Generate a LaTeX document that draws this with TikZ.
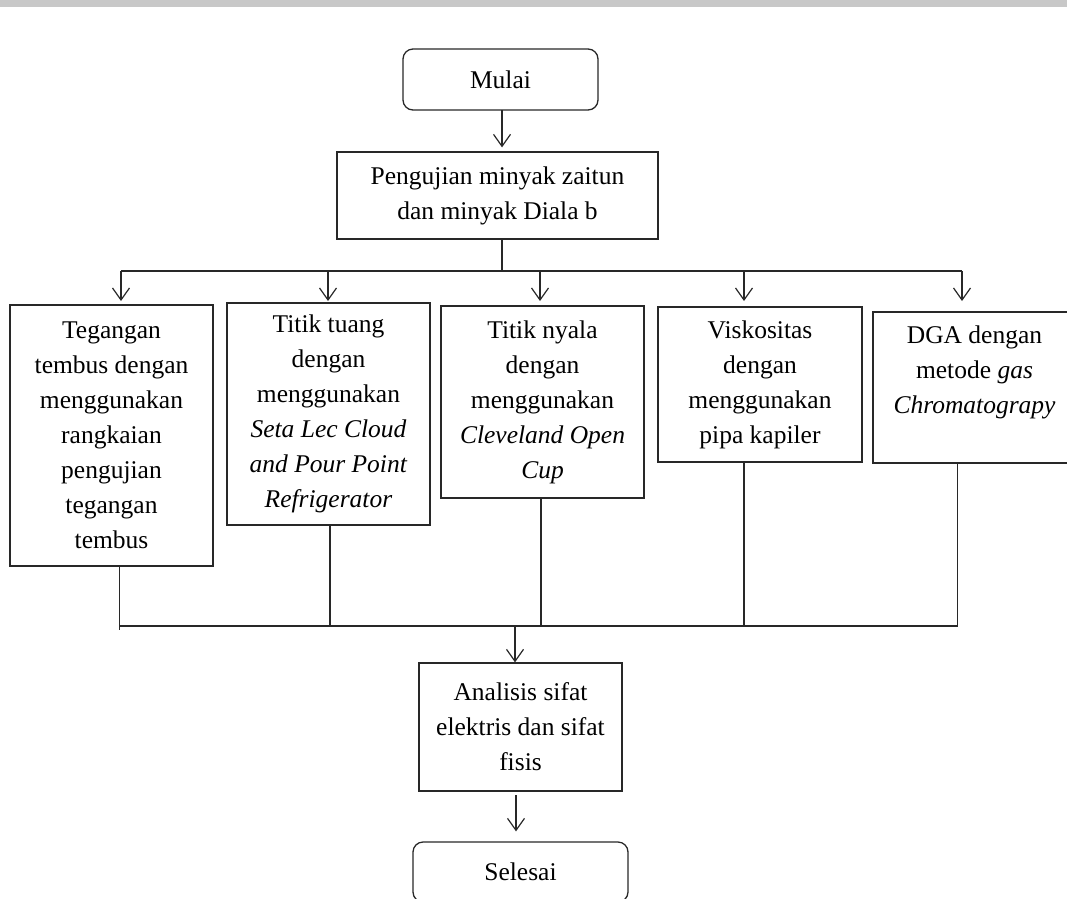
\documentclass[tikz,border=0pt]{standalone}
\usepackage{fontspec}
\setmainfont{Liberation Serif}
\usetikzlibrary{arrows.meta}
\definecolor{ln}{RGB}{40,40,40}
\definecolor{band}{RGB}{200,200,200}
\tikzset{
  txt/.style={font=\fontsize{25.5}{35}\selectfont, text=black},
  procbox/.style={txt, draw=ln, line width=1.3pt, rectangle, align=center, inner sep=0pt},
  termbox/.style={txt, draw=ln, line width=1.3pt, rectangle, rounded corners=10pt, inner sep=0pt},
  conn/.style={draw=ln, line width=1.2pt},
  arr/.style={conn, -{Straight Barb[length=12pt,width=17pt,line width=1.2pt]}},
}
\begin{document}
\begin{tikzpicture}[x=1pt,y=-1pt]
\useasboundingbox (0,0) rectangle (1067,898);
\clip (0,0) rectangle (1067,898);
\fill[band] (0,0) rectangle (1067,7);

% nodes
\node[termbox, minimum width=195pt, minimum height=61pt] (mulai) at (500.5,79.5) {Mulai};
\node[procbox, minimum width=321pt, minimum height=87pt] (peng) at (497.5,195.5) {Pengujian minyak zaitun\\dan minyak Diala b};
\node[procbox, minimum width=203pt, minimum height=261pt] (b1) at (111.5,435.5) {Tegangan\\tembus dengan\\menggunakan\\rangkaian\\pengujian\\tegangan\\tembus};
\node[procbox, minimum width=203pt, minimum height=222pt] (b2) at (328.5,414) {Titik tuang\\dengan\\menggunakan\\\textit{Seta Lec Cloud}\\\textit{and Pour Point}\\\textit{Refrigerator}};
\node[procbox, minimum width=203pt, minimum height=192pt] (b3) at (542.5,402) {Titik nyala\\dengan\\menggunakan\\\textit{Cleveland Open}\\\textit{Cup}};
\node[procbox, minimum width=204pt, minimum height=155pt] (b4) at (760,384.5) {Viskositas\\dengan\\menggunakan\\pipa kapiler};
\node[procbox, minimum width=203pt, minimum height=151pt] (b5) at (974.5,387.5) {DGA dengan\\metode \textit{gas}\\\textit{Chromatograpy}\\\mbox{}};
\node[procbox, minimum width=203pt, minimum height=128pt] (b6) at (520.5,727) {Analisis sifat\\elektris dan sifat\\fisis};
\node[termbox, minimum width=215pt, minimum height=60pt] (selesai) at (520.5,872) {Selesai};

% top connectors
\coordinate (m1) at (502,110);
\draw[arr] (m1) -- ([yshift=4pt]peng.north -| m1);
\coordinate (p1) at (502,239);
\coordinate (bus) at (502,271);
\draw[conn] (peng.south -| p1) -- (bus);
\coordinate (t1) at (121,271);
\coordinate (t2) at (328,271);
\coordinate (t3) at (540,271);
\coordinate (t4) at (744,271);
\coordinate (t5) at (962,271);
\draw[conn] (t1) -- (t5);
\draw[arr] (t1) -- ++(0,30);
\draw[arr] (t2) -- ++(0,30);
\draw[arr] (t3) -- ++(0,30);
\draw[arr] (t4) -- ++(0,30);
\draw[arr] (t5) -- ++(0,30);

% bottom connectors
\coordinate (u1) at (119.5,626);
\coordinate (u2) at (330,626);
\coordinate (u3) at (541,626);
\coordinate (u4) at (744,626);
\coordinate (u5) at (957.5,626);
\coordinate (u0) at (515,626);
\draw[conn] (b1.south -| u1) -- ([yshift=-4pt]u1);
\draw[conn] (b2.south -| u2) -- (u2);
\draw[conn] (b3.south -| u3) -- (u3);
\draw[conn] (b4.south -| u4) -- (u4);
\draw[conn] (b5.south -| u5) -- (u5);
\draw[conn] (u1) -- (u5);
\draw[arr] (u0) -- (b6.north -| u0);
\coordinate (s1) at (516,795);
\draw[arr] (s1) -- ([yshift=10pt]selesai.north -| s1);
\end{tikzpicture}
\end{document}
